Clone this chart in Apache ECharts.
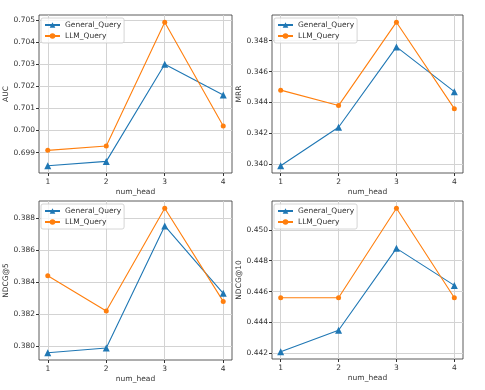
<!DOCTYPE html>
<html>
<head>
<meta charset="utf-8">
<script src="https://cdn.jsdelivr.net/npm/echarts@6/dist/echarts.min.js"></script>
<style>
  html, body { margin: 0; padding: 0; background: #fff; }
  #chart { width: 485px; height: 390px; }
</style>
</head>
<body>
<div id="chart"></div>
<script>
// num_head values
const numHead = [1, 2, 3, 4]
const xTicks = [1, 2, 3, 4]

// values
const aucGeneral = [0.6984, 0.6986, 0.7030, 0.7016]
const aucLLM = [0.6991, 0.6993, 0.7049, 0.7002]
const mrrGeneral = [0.3399, 0.3424, 0.3476, 0.3447]
const mrrLLM = [0.3448, 0.3438, 0.3492, 0.3436]
const ndcg5General = [0.3796, 0.3799, 0.3875, 0.3833]
const ndcg5LLM = [0.3844, 0.3822, 0.3886, 0.3828]
const ndcg10General = [0.4421, 0.4435, 0.4488, 0.4464]
const ndcg10LLM = [0.4456, 0.4456, 0.4514, 0.4456]

// y tick labels
const aucTicks = [0.699, 0.700, 0.701, 0.702, 0.703, 0.704, 0.705]
const mrrTicks = [0.340, 0.342, 0.344, 0.346, 0.348]
const ndcg5Ticks = [0.380, 0.382, 0.384, 0.386, 0.388]
const ndcg10Ticks = [0.442, 0.444, 0.446, 0.448, 0.450]

const BLUE = '#1f77b4'
const ORANGE = '#ff7f0e'
const FONT = 'DejaVu Sans'

const panels = [
  { name: 'AUC', general: aucGeneral, llm: aucLLM, ticks: aucTicks, grid: { left: 39, top: 15, width: 193, height: 158 } },
  { name: 'MRR', general: mrrGeneral, llm: mrrLLM, ticks: mrrTicks, grid: { left: 272, top: 15, width: 191, height: 158 } },
  { name: 'NDCG@5', general: ndcg5General, llm: ndcg5LLM, ticks: ndcg5Ticks, grid: { left: 39, top: 201, width: 193, height: 159 } },
  { name: 'NDCG@10', general: ndcg10General, llm: ndcg10LLM, ticks: ndcg10Ticks, grid: { left: 272, top: 201, width: 191, height: 158 } }
]

// matplotlib-like 5% margins
function padRange (vals) {
  const lo = Math.min(...vals)
  const hi = Math.max(...vals)
  const m = (hi - lo) * 0.05
  return [lo - m, hi + m]
}

const chart = echarts.init(document.getElementById('chart'))

const grid = []
const xAxis = []
const yAxis = []
const series = []
const legend = []

panels.forEach((p, i) => {
  grid.push(Object.assign({ show: true, borderColor: '#333', borderWidth: 0.8, backgroundColor: 'transparent' }, p.grid))
  xAxis.push({
    type: 'value',
    gridIndex: i,
    min: 0.85,
    max: 4.15,
    name: 'num_head',
    nameLocation: 'middle',
    nameGap: 15,
    nameTextStyle: { fontFamily: FONT, fontSize: 7.5, color: '#333' },
    axisLine: { show: false },
    axisTick: { show: true, length: 3, customValues: xTicks, lineStyle: { color: '#333' } },
    axisLabel: { customValues: xTicks, fontFamily: FONT, fontSize: 7.5, color: '#333', margin: 5 },
    splitLine: { show: true, lineStyle: { color: '#d3d3d3', width: 1 } }
  })
  const r = padRange(p.general.concat(p.llm))
  yAxis.push({
    type: 'value',
    gridIndex: i,
    min: r[0],
    max: r[1],
    name: p.name,
    nameLocation: 'middle',
    nameGap: 29,
    nameTextStyle: { fontFamily: FONT, fontSize: 7.5, color: '#333' },
    axisLine: { show: false },
    axisTick: { show: true, length: 3, customValues: p.ticks, lineStyle: { color: '#333' } },
    axisLabel: { customValues: p.ticks, fontFamily: FONT, fontSize: 7.5, color: '#333', margin: 4, formatter: v => v.toFixed(3) },
    splitLine: { show: true, lineStyle: { color: '#d3d3d3', width: 1 } }
  })
  series.push({
    name: 'General_Query',
    type: 'line',
    xAxisIndex: i,
    yAxisIndex: i,
    data: numHead.map((x, k) => [x, p.general[k]]),
    symbol: 'triangle',
    symbolSize: 7,
    itemStyle: { color: BLUE },
    lineStyle: { color: BLUE, width: 1.1 },
    animation: false
  })
  series.push({
    name: 'LLM_Query',
    type: 'line',
    xAxisIndex: i,
    yAxisIndex: i,
    data: numHead.map((x, k) => [x, p.llm[k]]),
    symbol: 'circle',
    symbolSize: 5,
    itemStyle: { color: ORANGE },
    lineStyle: { color: ORANGE, width: 1.1 },
    animation: false
  })
  legend.push({
    data: ['General_Query', 'LLM_Query'],
    orient: 'vertical',
    left: p.grid.left + 2,
    top: p.grid.top + 3,
    padding: [3, 3, 3, 3],
    itemGap: 3,
    itemWidth: 15,
    itemHeight: 7,
    borderColor: '#ccc',
    borderWidth: 0.8,
    borderRadius: 2,
    backgroundColor: 'rgba(255,255,255,0.8)',
    textStyle: { fontFamily: FONT, fontSize: 7.5, color: '#333' }
  })
})

chart.setOption({
  animation: false,
  grid,
  xAxis,
  yAxis,
  legend,
  series
})
</script>
</body>
</html>
